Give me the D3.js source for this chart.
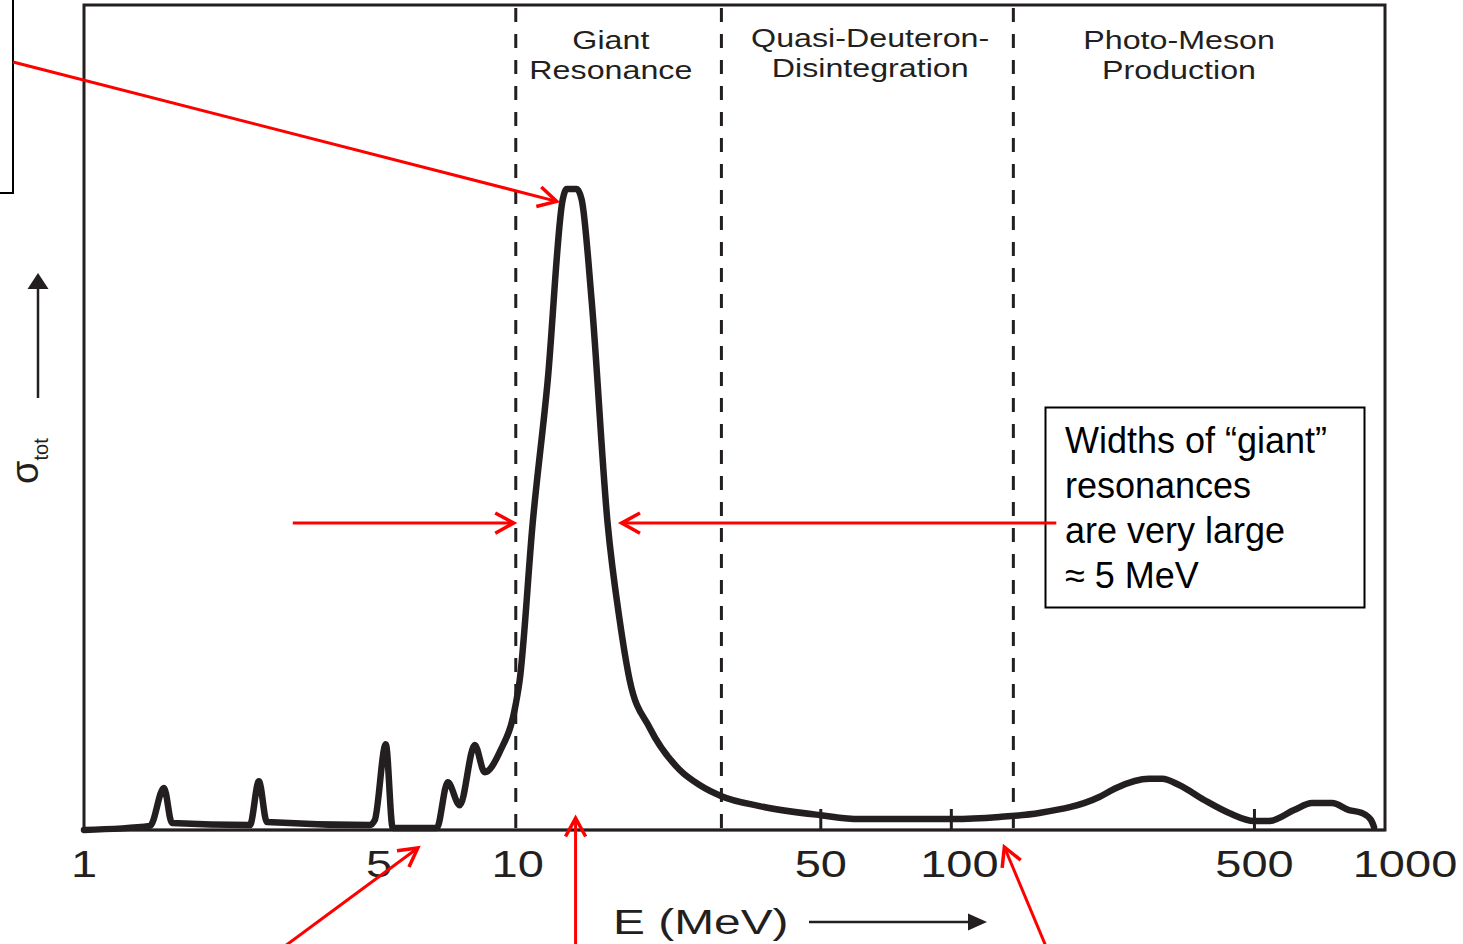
<!DOCTYPE html>
<html><head><meta charset="utf-8">
<script src="https://cdn.jsdelivr.net/npm/d3@7"></script>
<style>
html,body{margin:0;padding:0;background:#fff;}
svg{display:block;font-family:"Liberation Sans",Arial,sans-serif;}
</style></head>
<body>
<svg id="chart" width="1463" height="944"></svg>
<script>
// ---- data ----
const energy = [1.00,1.42,1.529,1.595,2.413,2.531,2.640,4.56,4.683,4.965,5.152,6.508,6.898,7.353,7.961,8.395,9.089,9.894,10.11,10.83,11.73,12.70,12.97,13.68,14.05,14.81,16.12,17.18,18.12,20.15,23.62,26.27,29.51,36.11,49.9,61.4,100.5,129,159.5,219.3,240,285.9,306.3,335.2,382.8,437,499.1,540.4,617.1,678.8,754.9,826,885.1,928.5,943.4];
const sigma  = [0,0.5,5.1,0.85,0.6,5.9,0.97,0.6,1.2,10.4,0.24,0.24,5.8,3.0,10.3,7.0,9.45,15.2,18.2,37.2,54.5,76.4,77.7,77.7,76.4,64.2,37.2,25.5,18.2,12.4,7.3,5.45,4.1,2.9,1.8,1.33,1.33,1.58,2.06,4.0,5.1,6.2,6.2,5.45,3.64,2.06,1.09,1.09,2.42,3.27,3.27,2.42,2.06,1.2,0.36];
const tickValues = [1,5,10,50,100,500,1000];
const tickLabels = ["1","5","10","50","100","500","1000"];
const tickMarks = [50,100,500];
const regionBounds = [9.9,29.5,139];
const regionNames = [["Giant","Resonance"],["Quasi-Deuteron-","Disintegration"],["Photo-Meson","Production"]];
const regionLabelE = [16.4,65,335];
const boxLines = ["Widths of \u201cgiant\u201d","resonances","are very large","\u2248 5 MeV"];
// annotation arrows: [tailE, tailSigma, tipE, tipSigma]
const arrows = [
  [0.686,93.1,12.30,76.2],
  [3.03,37.2,9.79,37.2],
  [174.6,37.2,17.36,37.2],
  [2.75,-15.0,5.885,-2.18],
  [13.60,-15.0,13.60,1.45],
  [168,-15.0,132.5,-2.06]
];

// ---- layout ----
const svg = d3.select("#chart");
const L=84, R=1385, T=5, B=830;
const x = d3.scaleLog().domain([1,1000]).range([L,R]);
const y = d3.scaleLinear().domain([0,100]).range([B,T]);
const ink = "#231f20";
const labelNudge = {5:-8, 100:8, 1000:20};

// frame
svg.append("rect").attr("x",L).attr("y",T).attr("width",R-L).attr("height",B-T)
  .attr("fill","none").attr("stroke",ink).attr("stroke-width",3);
svg.append("line").attr("x1",L).attr("x2",R).attr("y1",B).attr("y2",B)
  .attr("stroke",ink).attr("stroke-width",2.5);

// region dashed lines
svg.selectAll(".rb").data(regionBounds).join("line")
  .attr("x1",d=>x(d)).attr("x2",d=>x(d)).attr("y1",T+3).attr("y2",B)
  .attr("stroke",ink).attr("stroke-width",3).attr("stroke-dasharray","14,12");

// tick marks
svg.selectAll(".tm").data(tickMarks).join("line")
  .attr("x1",d=>x(d)).attr("x2",d=>x(d)).attr("y1",B-21).attr("y2",B)
  .attr("stroke",ink).attr("stroke-width",3);

// tick labels
svg.selectAll(".tl").data(tickValues).join("text")
  .attr("transform",d=>`translate(${x(d)+(labelNudge[d]||0)},877) scale(1.27,1)`)
  .attr("text-anchor","middle").attr("font-size",37).attr("fill",ink)
  .text((d,i)=>tickLabels[i]);

// region labels
regionNames.forEach((lines,i)=>{
  lines.forEach((t,j)=>{
    svg.append("text")
      .attr("transform",`translate(${x(regionLabelE[i])},${(i===1?47:49)+30*j}) scale(1.24,1)`)
      .attr("text-anchor","middle").attr("font-size",26).attr("fill",ink).text(t);
  });
});

// curve
const pts = energy.map((e,i)=>[e,sigma[i]]);
svg.append("path").datum(pts)
  .attr("d",d3.line().x(d=>x(d[0])).y(d=>y(d[1])).curve(d3.curveMonotoneX))
  .attr("fill","none").attr("stroke",ink).attr("stroke-width",6.5)
  .attr("stroke-linejoin","round").attr("stroke-linecap","round");

// x-axis title
svg.append("text").attr("transform","translate(613,934) scale(1.33,1)")
  .attr("font-size",36).attr("fill",ink).text("E (MeV)");
svg.append("line").attr("x1",809).attr("x2",972).attr("y1",922).attr("y2",922)
  .attr("stroke",ink).attr("stroke-width",2.5);
svg.append("path").attr("d","M987,922 L968,913.5 L968,930.5 Z").attr("fill",ink);

// y-axis title
const yl = svg.append("text").attr("transform","translate(38,484) rotate(-90)")
  .attr("fill",ink);
yl.append("tspan").attr("font-size",38).text("\u03c3");
yl.append("tspan").attr("font-size",20).attr("dy",10).text("tot");
svg.append("line").attr("x1",38).attr("x2",38).attr("y1",398).attr("y2",285)
  .attr("stroke",ink).attr("stroke-width",2.5);
svg.append("path").attr("d","M38,273 L27.5,289 L48.5,289 Z").attr("fill",ink);

// left partial box
svg.append("rect").attr("x",-10).attr("y",-10).attr("width",23).attr("height",203)
  .attr("fill","none").attr("stroke","#000").attr("stroke-width",2);

// annotation box
svg.append("rect").attr("x",1045.5).attr("y",407.5).attr("width",319).attr("height",200)
  .attr("fill","#fff").attr("stroke","#000").attr("stroke-width",2);
svg.selectAll(".bt").data(boxLines).join("text")
  .attr("x",1065).attr("y",(d,i)=>453+45*i)
  .attr("font-size",36).attr("fill","#000").text(d=>d);

// red arrows
const red = "#ff0000";
arrows.forEach(a=>{
  const x1=x(a[0]), y1=y(a[1]), x2=x(a[2]), y2=y(a[3]);
  svg.append("line").attr("x1",x1).attr("y1",y1).attr("x2",x2).attr("y2",y2)
    .attr("stroke",red).attr("stroke-width",3);
  const ang = Math.atan2(y1-y2,x1-x2), len=21, spread=0.5;
  const w1=[x2+len*Math.cos(ang+spread), y2+len*Math.sin(ang+spread)];
  const w2=[x2+len*Math.cos(ang-spread), y2+len*Math.sin(ang-spread)];
  svg.append("path").attr("d",`M${w1[0]},${w1[1]} L${x2},${y2} L${w2[0]},${w2[1]}`)
    .attr("fill","none").attr("stroke",red).attr("stroke-width",3.5)
    .attr("stroke-linejoin","miter").attr("stroke-linecap","butt");
});
</script>
</body></html>
